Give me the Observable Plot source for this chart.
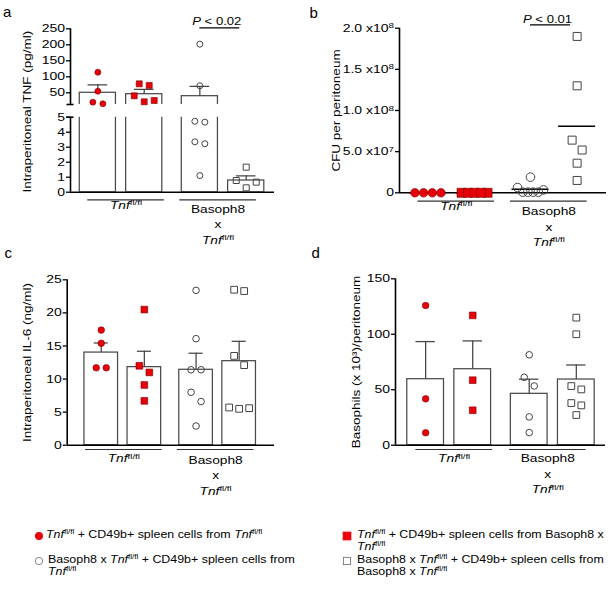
<!DOCTYPE html>
<html><head><meta charset="utf-8">
<script src="https://cdn.jsdelivr.net/npm/d3@7"></script>
<script src="https://cdn.jsdelivr.net/npm/@observablehq/plot@0.6"></script>
<style>
html,body{margin:0;padding:0;background:#fff;}
#fig{position:relative;width:613px;height:594px;overflow:hidden;font-family:'Liberation Sans',Arial,Helvetica,sans-serif;color:#000;background:#fff;}
.panel{position:absolute;}
.panel svg{display:block;overflow:visible;position:absolute;left:0;top:0;}
.letter{position:absolute;font-size:15px;line-height:1;}
.leg-text{position:absolute;font-size:10px;line-height:12.3px;white-space:nowrap;transform:scaleX(1.24);transform-origin:0 0;}
.leg-text sup{font-size:65%;line-height:0;vertical-align:0.55em;}
.leg-mark{position:absolute;display:block;overflow:visible;}
</style></head><body><div id="fig"></div>
<script>
// ---------------- DATA ----------------
const groupNames = ["Tnf fl/fl + Tnf fl/fl cells", "Tnf fl/fl + Basoph8 x Tnf fl/fl cells",
                    "Basoph8 x Tnf fl/fl + Tnf fl/fl cells", "Basoph8 x Tnf fl/fl + Basoph8 x Tnf fl/fl cells"];
const hostLabels = ["_Tnf_^fl/fl^", "Basoph8\nx\n_Tnf_^fl/fl^"];

// panel a : intraperitoneal TNF (pg/ml), broken axis
const tnfTitle = "Intraperitoneal TNF (pg/ml)";
const tnfTicksLow = [0, 1, 2, 3, 4, 5];
const tnfTicksHigh = [50, 100, 150, 200, 250];
const tnfG1 = [114, 55, 20.6, 15.6];
const tnfG2 = [78, 73, 40.6, 25.9, 21.9];
const tnfG3 = [202, 72, 4.73, 4.67, 3.36, 3.23, 1.11];
const tnfG4 = [1.67, 0.78, 0.67, 0.29];
const tnfMean = [50, 45.6, 39.4, 0.78];
const tnfSem = [25, 14.7, 30.3, 0.31];
const tnfP = "_P_ < 0.02";

// panel b : CFU per peritoneum
const cfuTitle = "CFU per peritoneum";
const cfuTicks = [0, 5e7, 1e8, 1.5e8, 2e8];
const cfuTickLabels = ["0", "5.0 x10^7^", "1.0 x10^8^", "1.5 x10^8^", "2.0 x10^8^"];
const cfuG1 = [0, 0, 0, 0];
const cfuG2 = [0, 0, 0, 0, 0];
const cfuG3 = [1.9e7, 6.4e6, 3.5e6, 0.8e6, 0.8e6, 0.8e6, 0.8e6];
const cfuG4 = [1.9e8, 1.3e8, 6.4e7, 5.2e7, 3.6e7, 1.5e7];
const cfuMean = [0, 0, 4.4e6, 8.1e7];
const cfuP = "_P_ < 0.01";

// panel c : intraperitoneal IL-6 (ng/ml)
const il6Title = "Intraperitoneal IL-6 (ng/ml)";
const il6Ticks = [0, 5, 10, 15, 20, 25];
const il6G1 = [17.4, 15.4, 11.7, 11.7];
const il6G2 = [20.5, 12.0, 11.0, 9.1, 6.7];
const il6G3 = [23.4, 16.1, 11.4, 11.4, 8.0, 6.6, 2.9];
const il6G4 = [23.5, 23.3, 13.5, 12.1, 5.7, 5.6, 5.5];
const il6Mean = [14.0, 11.8, 11.4, 12.7];
const il6Sem = [1.45, 2.4, 2.5, 3.0];

// panel d : basophils (x 10^3)/peritoneum
const basoTitle = "Basophils (x 10³)/peritoneum";
const basoTicks = [0, 50, 100, 150];
const basoG1 = [125.9, 41.8, 11.2];
const basoG2 = [117, 58.6, 31.5];
const basoG3 = [81.5, 61.2, 53.4, 25.5, 11.4];
const basoG4 = [115, 100, 53.3, 50.3, 38, 35.9, 27.2];
const basoMean = [59.5, 68.5, 46.3, 59.2];
const basoSem = [33.9, 25.5, 13.2, 13.1];

// legend
const legendLabels = [
  "<i>Tnf</i><sup>fl/fl</sup> + CD49b+ spleen cells from <i>Tnf</i><sup>fl/fl</sup>",
  "<i>Tnf</i><sup>fl/fl</sup> + CD49b+ spleen cells from Basoph8 x<br><i>Tnf</i><sup>fl/fl</sup>",
  "Basoph8 x <i>Tnf</i><sup>fl/fl</sup> + CD49b+ spleen cells from<br><i>Tnf</i><sup>fl/fl</sup>",
  "Basoph8 x <i>Tnf</i><sup>fl/fl</sup> + CD49b+ spleen cells from<br>Basoph8 x <i>Tnf</i><sup>fl/fl</sup>"
];

// ---------------- STYLE / LAYOUT ----------------
const SX = 1.25;
const FONT = "'Liberation Sans', Arial, Helvetica, sans-serif";
const RED = "#e8000b", RED_STROKE = "#7a0000", GRAY = "#444";
const centers = [0, 1, 2.2, 3.2];
const BAR_HW = 0.39;
const seriesStyle = [
  {symbol: "circle", fill: RED, stroke: RED_STROKE, sw: 0.6},
  {symbol: "square", fill: RED, stroke: RED_STROKE, sw: 0.6},
  {symbol: "circle", fill: "none", stroke: GRAY, sw: 1},
  {symbol: "square", fill: "none", stroke: GRAY, sw: 1}
];

function spread(vals, yPx, T, W, maxStep) {
  const idx = d3.range(vals.length).sort((i, j) => vals[j] - vals[i]);
  const off = new Array(vals.length).fill(0);
  let k = 0;
  while (k < idx.length) {
    const start = yPx(vals[idx[k]]);
    let m = k + 1;
    while (m < idx.length && Math.abs(yPx(vals[idx[m]]) - start) < T) m++;
    const cl = idx.slice(k, m), n = cl.length;
    if (n > 1) {
      const step = Math.min(maxStep, W / (n - 1));
      const slots = d3.range(n).map(s => (s - (n - 1) / 2) * step);
      const order = [0, n - 1, ...d3.range(1, n - 1)];
      cl.forEach((id, t) => { off[id] = slots[order[t]]; });
    }
    k = m;
  }
  return off;
}

function rich(svg) {
  const nodes = [];
  svg.querySelectorAll("text").forEach(t => {
    const ts = t.querySelectorAll("tspan");
    if (ts.length) ts.forEach(s => nodes.push(s)); else nodes.push(t);
  });
  nodes.forEach(n => {
    const s = n.textContent;
    if (!/[_^]/.test(s)) return;
    n.textContent = "";
    let it = false, sup = false, buf = "";
    const flush = () => {
      if (!buf) return;
      const sp = document.createElementNS("http://www.w3.org/2000/svg", "tspan");
      if (it) sp.setAttribute("font-style", "italic");
      if (sup) { sp.setAttribute("font-size", "70%"); sp.setAttribute("baseline-shift", "0.5em"); }
      sp.textContent = buf; n.appendChild(sp); buf = "";
    };
    for (const ch of s) {
      if (ch === "_") { flush(); it = !it; }
      else if (ch === "^") { flush(); sup = !sup; }
      else buf += ch;
    }
    flush();
  });
}

function stretch(svg) {
  svg.querySelectorAll("text").forEach(t => {
    const xa = t.getAttribute("x");
    const x = xa && !/em/.test(xa) ? parseFloat(xa) || 0 : 0;
    const tr = t.getAttribute("transform") || "";
    t.setAttribute("transform", `${tr} translate(${x},0) scale(${SX},1) translate(${-x},0)`.trim());
  });
}

function panel(cfg) {
  const {width, height, ml, mr} = cfg;
  const xRange = [ml, width - mr];
  const pxX = (xRange[1] - xRange[0]) / (cfg.xDomain[1] - cfg.xDomain[0]);
  const x0 = cfg.xDomain[0];
  const base = cfg.segments[0].domain[0];
  const segSorted = [...cfg.segments].sort((a, b) => a.domain[0] - b.domain[0]);
  const allDom = [], allRng = [];
  segSorted.forEach(s => { allDom.push(s.domain[0], s.domain[1]); allRng.push(height - s.mb, s.mt); });
  const yPx = d3.scaleLinear().domain(allDom).range(allRng);
  const stats = centers.map((c, i) => ({c, mean: cfg.mean[i], top: cfg.mean[i] + (cfg.sem ? cfg.sem[i] : 0)}));
  const pts = cfg.series.map((vals, s) => {
    const off = spread(vals, yPx, 10, 26, 10);
    return vals.map((v, i) => ({v, x: centers[s] + off[i] / pxX}));
  });
  const div = document.createElement("div");
  div.className = "panel";
  div.style.left = cfg.left + "px"; div.style.top = cfg.top + "px";
  div.style.width = width + "px"; div.style.height = height + "px";
  document.getElementById("fig").appendChild(div);
  const clip = cfg.segments.length > 1;

  cfg.segments.forEach(seg => {
    const [dmin, dmax] = seg.domain;
    const marks = [];
    if (cfg.kind === "bar") {
      marks.push(Plot.rect(stats, {x1: d => d.c - BAR_HW, x2: d => d.c + BAR_HW, y1: () => base, y2: "mean",
        fill: "white", stroke: "#4a4a4a", strokeWidth: 1.25, clip}));
      const ch = cfg.capHalfPx / pxX;
      marks.push(Plot.ruleX(stats, {x: "c", y1: "mean", y2: "top", stroke: GRAY, strokeWidth: 1.25, clip}));
      marks.push(Plot.ruleY(stats, {y: "top", x1: d => d.c - ch, x2: d => d.c + ch, stroke: GRAY, strokeWidth: 1.25, clip}));
    } else {
      const mh = cfg.meanHalfPx / pxX;
      marks.push(Plot.ruleY(stats, {y: "mean", x1: d => d.c - mh, x2: d => d.c + mh, stroke: "black", strokeWidth: 1.5}));
    }
    if (seg.base) marks.push(Plot.ruleY([dmin], {stroke: "black", strokeWidth: 1.6}));
    marks.push(Plot.ruleX([seg.domain], {x: () => x0, y1: d => d[0], y2: d => d[1], stroke: "black", strokeWidth: 1.6}));
    if (seg.breakAt != null) {
      marks.push(Plot.ruleY([seg.breakAt], {x1: () => x0 - 3.5 / pxX, x2: () => x0 + 3.5 / pxX, stroke: "black", strokeWidth: 1.6}));
    }
    marks.push(Plot.axisY({ticks: seg.ticks, tickFormat: cfg.tickFormat || (d => String(d)), tickSize: 4, tickPadding: 1.5,
      fontSize: 11.2, color: "black", strokeWidth: 1.3, label: null}));
    pts.forEach((arr, s) => {
      const st = seriesStyle[s];
      const inSeg = arr.filter(p => p.v >= dmin && p.v <= dmax);
      marks.push(Plot.dot(inSeg, {x: "x", y: "v", symbol: st.symbol, r: cfg.r[s], fill: st.fill, stroke: st.stroke, strokeWidth: st.sw}));
    });
    if (seg.base) {
      const half = 38.3 / pxX;
      const gdefs = [
        {label: hostLabels[0], xc: (centers[0] + centers[1]) / 2 + cfg.groupShift[0] / pxX, dy: cfg.groupDy[0]},
        {label: hostLabels[1], xc: (centers[2] + centers[3]) / 2 + cfg.groupShift[1] / pxX, dy: cfg.groupDy[1]}
      ];
      marks.push(Plot.ruleY(gdefs, {y: () => dmin, x1: d => d.xc - half, x2: d => d.xc + half, dy: cfg.groupLineDy, stroke: "#333", strokeWidth: 1.2}));
      gdefs.forEach(g => marks.push(Plot.text([g], {x: "xc", y: () => dmin, text: "label", lineAnchor: "top", lineHeight: 1.41,
        dy: g.dy, fontSize: 11, fill: "black"})));
      marks.push(Plot.text([cfg.title], {text: d => d, frameAnchor: "left", rotate: -90, dx: cfg.titleDx, dy: cfg.titleDy || 0,
        textAnchor: "middle", lineAnchor: "middle", fontSize: 10.8, fill: "black"}));
    }
    if (seg.sig) {
      const sg = {label: cfg.sig.label, a: centers[2], b: centers[3] - 0.14};
      marks.push(Plot.ruleY([sg], {y: () => dmax, x1: "a", x2: "b", dy: cfg.sig.lineDy, stroke: "black", strokeWidth: 1.2}));
      marks.push(Plot.text([sg], {x: d => (d.a + d.b) / 2, y: () => dmax, text: "label", lineAnchor: "bottom",
        dy: cfg.sig.textDy, dx: -3, fontSize: 10.5, fill: "black"}));
    }
    const svg = Plot.plot({
      width, height, marginTop: seg.mt, marginRight: mr, marginBottom: seg.mb, marginLeft: ml,
      x: {domain: cfg.xDomain, range: xRange, axis: null},
      y: {domain: seg.domain},
      style: {fontFamily: FONT, fontSize: "11px", color: "black", background: "transparent", overflow: "visible"},
      marks
    });
    rich(svg);
    stretch(svg);
    div.appendChild(svg);
  });
}

const cfuLabelMap = new Map(cfuTicks.map((t, i) => [t, cfuTickLabels[i]]));

panel({left: 0, top: 0, width: 300, height: 250, mr: 26, ml: 70,
  xDomain: [-0.59, 3.81],
  segments: [
    {domain: [0, 5], mt: 116.7, mb: 58.3, ticks: tnfTicksLow, breakAt: 5, base: true},
    {domain: [13.4, 250], mt: 28.3, mb: 146, ticks: tnfTicksHigh, breakAt: 13.4, sig: true}
  ],
  series: [tnfG1, tnfG2, tnfG3, tnfG4], mean: tnfMean, sem: tnfSem, kind: "bar", capHalfPx: 9.8,
  r: [3, 3.4, 3, 3.4], title: tnfTitle, titleDx: -42.5, titleDy: -43,
  groupShift: [5, -5], groupDy: [5.6, 9.6], groupLineDy: 7.6,
  sig: {label: tnfP, lineDy: -1, textDy: -4.3}});

panel({left: 300, top: 0, width: 313, height: 250, mr: 7, ml: 99,
  xDomain: [-0.61, 3.83],
  segments: [{domain: [0, 2e8], mt: 27.7, mb: 57.7, ticks: cfuTicks, base: true, sig: true}],
  tickFormat: d => cfuLabelMap.get(d),
  series: [cfuG1, cfuG2, cfuG3, cfuG4], mean: cfuMean, kind: "line", meanHalfPx: 18.5,
  r: [4.3, 5.1, 4.3, 4.5], title: cfuTitle, titleDx: -63.2,
  groupShift: [5, -5], groupDy: [5.7, 11.2], groupLineDy: 8.4,
  sig: {label: cfuP, lineDy: -3.4, textDy: -5.7}});

panel({left: 0, top: 250, width: 300, height: 250, mr: 26, ml: 66.7,
  xDomain: [-0.79, 4.02],
  segments: [{domain: [0, 25], mt: 29.3, mb: 55.3, ticks: il6Ticks, base: true}],
  series: [il6G1, il6G2, il6G3, il6G4], mean: il6Mean, sem: il6Sem, kind: "bar", capHalfPx: 7,
  r: [3.3, 3.8, 3.3, 3.8], title: il6Title, titleDx: -39.2,
  groupShift: [1, -2], groupDy: [6, 7.6], groupLineDy: 4.3});

panel({left: 300, top: 250, width: 313, height: 250, mr: 8, ml: 95,
  xDomain: [-0.64, 3.82],
  segments: [{domain: [0, 150], mt: 28.3, mb: 55.3, ticks: basoTicks, base: true}],
  series: [basoG1, basoG2, basoG3, basoG4], mean: basoMean, sem: basoSem, kind: "bar", capHalfPx: 9.7,
  r: [3.3, 3.8, 3.3, 3.8], title: basoTitle, titleDx: -39.2,
  groupShift: [5, -5], groupDy: [6, 6], groupLineDy: 4.3});

// panel letters
const fig = document.getElementById("fig");
[["a", 3, 4.3], ["b", 309.5, 5.3], ["c", 4.5, 245.3], ["d", 311.5, 245.3]].forEach(([t, l, tp]) => {
  const el = document.createElement("div");
  el.className = "letter"; el.textContent = t;
  el.style.left = l + "px"; el.style.top = tp + "px";
  fig.appendChild(el);
});

// legend
const legendItems = [
  {s: 0, mx: 39.3, my: 535.7, tx: 45.7, ty: 528.9, r: 3.7},
  {s: 1, mx: 347.3, my: 535.7, tx: 357.3, ty: 528.9, r: 3.9},
  {s: 2, mx: 39.3, my: 560.7, tx: 48.3, ty: 553.9, r: 3.7},
  {s: 3, mx: 347.3, my: 560.7, tx: 357.3, ty: 553.9, r: 3.6}
];
legendItems.forEach((it, i) => {
  const st = seriesStyle[it.s];
  const ns = "http://www.w3.org/2000/svg";
  const sv = document.createElementNS(ns, "svg");
  sv.setAttribute("class", "leg-mark");
  sv.setAttribute("width", 12); sv.setAttribute("height", 12);
  sv.style.left = (it.mx - 6) + "px"; sv.style.top = (it.my - 6) + "px";
  let sh;
  if (st.symbol === "circle") {
    sh = document.createElementNS(ns, "circle");
    sh.setAttribute("cx", 6); sh.setAttribute("cy", 6); sh.setAttribute("r", it.r);
  } else {
    sh = document.createElementNS(ns, "rect");
    sh.setAttribute("x", 6 - it.r); sh.setAttribute("y", 6 - it.r);
    sh.setAttribute("width", 2 * it.r); sh.setAttribute("height", 2 * it.r);
  }
  sh.setAttribute("fill", st.fill === "none" ? "white" : st.fill);
  sh.setAttribute("stroke", st.fill === "none" ? "#777" : st.fill);
  sh.setAttribute("stroke-width", 0.9);
  sv.appendChild(sh);
  fig.appendChild(sv);
  const tx = document.createElement("div");
  tx.className = "leg-text";
  tx.style.left = it.tx + "px"; tx.style.top = it.ty + "px";
  tx.innerHTML = legendLabels[i];
  fig.appendChild(tx);
});
</script></body></html>
